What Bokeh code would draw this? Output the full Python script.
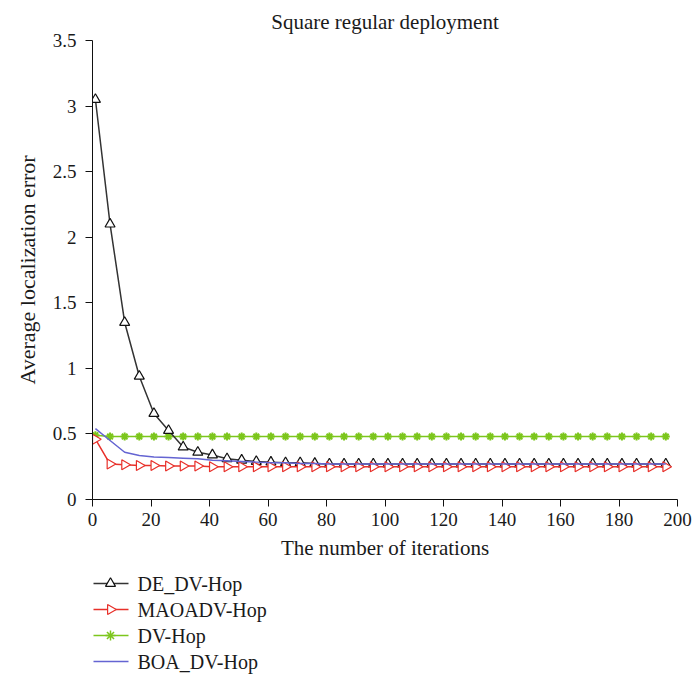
from bokeh.plotting import figure
from bokeh.models import Range1d, FixedTicker
from bokeh.core.properties import value
from bokeh.layouts import column
from bokeh.embed import file_html
from bokeh.resources import INLINE
import math

iterations = list(range(1, 200, 5))

de_dv_hop = [3.05, 2.10, 1.35, 0.94, 0.656, 0.526, 0.40, 0.36, 0.34, 0.31,
             0.30, 0.29, 0.285, 0.28, 0.28, 0.275, 0.27, 0.27, 0.27, 0.27,
             0.27, 0.27, 0.27, 0.27, 0.27, 0.27, 0.27, 0.27, 0.27, 0.27,
             0.27, 0.27, 0.27, 0.27, 0.27, 0.27, 0.27, 0.27, 0.27, 0.27]
maoadv_hop = [0.46, 0.27, 0.265, 0.26, 0.26, 0.255, 0.255, 0.255, 0.25, 0.25,
              0.25, 0.25, 0.25, 0.25, 0.25, 0.25, 0.25, 0.25, 0.25, 0.25,
              0.25, 0.25, 0.25, 0.25, 0.25, 0.25, 0.25, 0.25, 0.25, 0.25,
              0.25, 0.25, 0.25, 0.25, 0.25, 0.25, 0.25, 0.25, 0.25, 0.25]
dv_hop = [0.49, 0.48, 0.48, 0.48, 0.48, 0.48, 0.48, 0.48, 0.48, 0.48,
          0.48, 0.48, 0.48, 0.48, 0.48, 0.48, 0.48, 0.48, 0.48, 0.48,
          0.48, 0.48, 0.48, 0.48, 0.48, 0.48, 0.48, 0.48, 0.48, 0.48,
          0.48, 0.48, 0.48, 0.48, 0.48, 0.48, 0.48, 0.48, 0.48, 0.48]
boa_dv_hop = [0.54, 0.45, 0.36, 0.335, 0.325, 0.32, 0.315, 0.31, 0.30, 0.295,
              0.29, 0.285, 0.28, 0.28, 0.275, 0.275, 0.27, 0.27, 0.27, 0.27,
              0.27, 0.27, 0.27, 0.27, 0.27, 0.27, 0.27, 0.27, 0.27, 0.27,
              0.27, 0.27, 0.27, 0.27, 0.27, 0.27, 0.27, 0.27, 0.27, 0.27]

x_ticks = [0, 20, 40, 60, 80, 100, 120, 140, 160, 180, 200]
y_ticks = [0, 0.5, 1, 1.5, 2, 2.5, 3, 3.5]
series_names = ["DE_DV-Hop", "MAOADV-Hop", "DV-Hop", "BOA_DV-Hop"]

FONT = "Liberation Serif"
TXT = "#1a1a1a"

green = "#7cc61c"
red = "#e8302a"
black = "#333333"
blue = "#6464d2"

p = figure(width=693, height=565, output_backend="svg", toolbar_location=None,
           x_range=Range1d(0, 200), y_range=Range1d(0, 3.5),
           min_border_left=92, min_border_right=16, min_border_top=40,
           min_border_bottom=66,
           title="Square regular deployment",
           x_axis_label="The number of iterations",
           y_axis_label="Average localization error")
p.title.align = "center"
p.title.text_font = FONT
p.title.text_font_size = "21px"
p.title.text_font_style = "normal"
p.title.text_color = TXT
p.title.standoff = 13
p.outline_line_color = None
p.grid.visible = False

for ax in (p.xaxis[0], p.yaxis[0]):
    ax.axis_line_color = "#111111"
    ax.major_tick_line_color = "#111111"
    ax.major_tick_out = 7
    ax.major_tick_in = 0
    ax.minor_tick_line_color = None
    ax.major_label_text_font = FONT
    ax.major_label_text_font_size = "19px"
    ax.major_label_text_color = TXT
    ax.axis_label_text_font = FONT
    ax.axis_label_text_font_style = "normal"
    ax.axis_label_text_color = TXT
p.xaxis.axis_label_text_font_size = "21px"
p.yaxis.axis_label_text_font_size = "22px"
p.xaxis.ticker = FixedTicker(ticks=x_ticks)
p.yaxis.ticker = FixedTicker(ticks=y_ticks)
p.yaxis.major_label_standoff = 9
p.xaxis.major_label_standoff = 6
p.yaxis.axis_label_standoff = 10
p.xaxis.axis_label_standoff = 7

# series (drawing order: green, black, red, blue)
p.line(iterations, dv_hop, line_color=green, line_width=1.5)
p.scatter(iterations, dv_hop, marker="asterisk", size=8, line_color=green, line_width=2)
p.line(iterations, de_dv_hop, line_color=black, line_width=1.5)
p.scatter(iterations, de_dv_hop, marker="triangle", size=10, line_color="#111111",
          fill_color="white", line_width=1.2)
p.line(iterations, maoadv_hop, line_color=red, line_width=1.5)
p.scatter(iterations, maoadv_hop, marker="triangle", angle=-math.pi / 2, size=10,
          line_color=red, fill_color="white", line_width=1.2)
p.line(iterations, boa_dv_hop, line_color=blue, line_width=1.5)

# legend panel below the chart (pixel-like coordinates, y downward)
lf = figure(width=693, height=113, output_backend="svg", toolbar_location=None,
            x_range=Range1d(0, 585), y_range=Range1d(113, 0),
            min_border_left=92, min_border_right=16, min_border_top=0,
            min_border_bottom=0)
lf.axis.visible = False
lf.grid.visible = False
lf.outline_line_color = None

row_y = [18, 44, 70, 96]
line_colors = [black, red, green, blue]
for name, yy, col in zip(series_names, row_y, line_colors):
    lf.line([1, 36], [yy, yy], line_color=col, line_width=1.5)
    lf.text([45], [yy], text=[name], text_font=value(FONT), text_font_size=value("20px"),
            text_color=TXT, text_baseline="middle", text_align="left")
lf.scatter([18], [row_y[0]], marker="triangle", size=10, line_color="#111111",
           fill_color="white", line_width=1.2)
lf.scatter([18], [row_y[1]], marker="triangle", angle=-math.pi / 2, size=10,
           line_color=red, fill_color="white", line_width=1.2)
lf.scatter([18], [row_y[2]], marker="asterisk", size=10, line_color=green, line_width=1.5)

layout = column(p, lf, spacing=0)
open("out.html", "w").write(file_html(layout, INLINE))
